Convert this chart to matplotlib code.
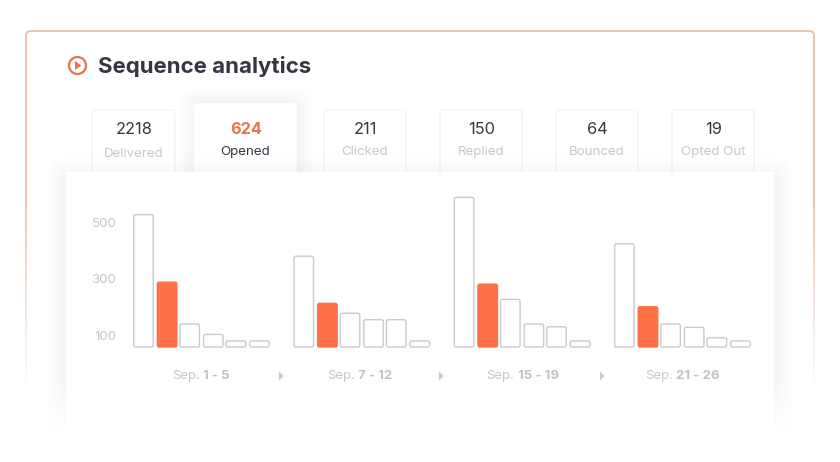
#!/usr/bin/env python3

import numpy as np
import matplotlib
matplotlib.use("Agg")
import matplotlib.pyplot as plt
from matplotlib.patches import FancyBboxPatch, Circle, Polygon, Rectangle

W, H = 840, 462

# data
tab_values = ["2218", "624", "211", "150", "64", "19"]
tab_labels = ["Delivered", "Opened", "Clicked", "Replied", "Bounced", "Opted Out"]
week_prefix = ["Sep. ", "Sep. ", "Sep. ", "Sep. "]
week_days = ["1 - 5", "7 - 12", "15 - 19", "21 - 26"]
y_ticks = [100, 300, 500]
week_1 = [528, 289, 141, 104, 81, 81]
week_2 = [381, 214, 179, 156, 156, 81]
week_3 = [589, 282, 228, 141, 131, 81]
week_4 = [425, 202, 141, 129, 92, 81]
weeks = [week_1, week_2, week_3, week_4]

ORANGE = "#fd7145"
TITLE_ORANGE = "#e9744a"
DARK = "#333742"
GREY = "#c6c8cc"
EDGE = "#c9cbd0"

plt.rcParams["font.family"] = ["Inter", "DejaVu Sans"]

fig = plt.figure(figsize=(W / 100, H / 100), dpi=100)
bg = fig.add_axes([0, 0, 1, 1])
bg.axis("off")


def soft_box(x, y, w, h, spread=18, strength=0.003, r=6, z=1):
    # stack of faint boxes, looks like a css box-shadow
    for s in np.linspace(spread, 1, 10):
        bg.add_patch(FancyBboxPatch((x - s, y - s), w + 2 * s, h + 2 * s,
                                    boxstyle=f"round,pad=0,rounding_size={r + s}",
                                    fc="#40404a", ec="none", alpha=strength, zorder=z))


def white_fade(x0, x1, y0, y1, z):
    # white overlay, clear at y0 and solid at y1
    img = np.ones((200, 1, 4))
    img[:, 0, 3] = np.linspace(0, 1, 200)
    bg.imshow(img, extent=(x0, x1, y1, y0), aspect="auto", zorder=z)


# outer frame, fades out towards the bottom
bg.add_patch(FancyBboxPatch((26, 31), 788, 500, boxstyle="round,pad=0,rounding_size=5",
                            fc="white", ec="#e8bfa9", lw=1.3, zorder=0))
white_fade(15, 825, 190, 392, 0.5)
bg.add_patch(Rectangle((15, 392), 810, 70, fc="white", ec="none", zorder=0.6))

# header
bg.add_patch(Circle((77.5, 65.5), 8.5, fc="none", ec=TITLE_ORANGE, lw=1.6, zorder=3))
bg.add_patch(Polygon([(75, 61), (75, 70), (81.5, 65.5)], closed=True,
                     fc=TITLE_ORANGE, ec="none", zorder=3))
bg.text(98, 66.5, "Sequence analytics", fontsize=16, fontweight="bold",
        color=DARK, va="center", ha="left", zorder=3)

# tabs
tab_left = [92, 194, 324, 440, 556, 672]
tab_right = [175, 297, 406, 522, 638, 754]
tab_top = [110, 103, 110, 110, 110, 110]
label_y = [154, 152, 152, 152, 152, 152]
for i in range(len(tab_values)):
    active = i == 1
    x0, x1, y0 = tab_left[i], tab_right[i], tab_top[i]
    if active:
        soft_box(x0, y0, x1 - x0, 180 - y0, spread=16, strength=0.0028, r=4, z=1)
    # the other tabs only have a very pale outline
    bg.add_patch(FancyBboxPatch((x0, y0), x1 - x0, 180 - y0,
                                boxstyle="round,pad=0,rounding_size=4",
                                fc="white", ec="none" if active else "#f5f5f6",
                                lw=1.2, zorder=2))
    cx = (x0 + x1) / 2
    bg.text(cx + 0.5, 130, tab_values[i], fontsize=11.8, ha="center", va="center",
            color=TITLE_ORANGE if active else DARK,
            fontweight="bold" if active else "normal", zorder=3)
    bg.text(cx, label_y[i], tab_labels[i], fontsize=9.6, ha="center", va="center",
            color=DARK if active else GREY, zorder=3)

# chart panel
soft_box(66, 176, 708, 300, spread=20, strength=0.003, r=2, z=2.2)
bg.add_patch(Rectangle((66, 172), 708, 290, fc="white", ec="none", zorder=2.5))
white_fade(30, 810, 385, 435, 2.6)
bg.add_patch(Rectangle((30, 435), 780, 27, fc="white", ec="none", zorder=2.7))

bg.set_xlim(0, W)
bg.set_ylim(H, 0)

# bars, x axis is in pixels so the group layout stays simple
PX_PER_UNIT = 0.2825
ax = fig.add_axes([132 / W, 1 - 347 / H, 640 / W, 160 / H], zorder=5)
ax.patch.set_alpha(0)
bar_step = 23.1
group_step = 160.3
bar_w = 19.5
n_bars = len(week_1)
base = 59.5
ax.set_xlim(0, 640)
ax.set_ylim(base, base + 160 / PX_PER_UNIT)
for g, values in enumerate(weeks):
    for b, v in enumerate(values):
        x = 11.5 + g * group_step + b * bar_step + (0.5 if b % 2 else 0)
        c = ORANGE if b == 1 else "white"
        e = ORANGE if b == 1 else EDGE
        ax.add_patch(FancyBboxPatch((x - bar_w / 2, base), bar_w, v - base,
                                    boxstyle="round,pad=0,rounding_size=1.8",
                                    mutation_aspect=1 / PX_PER_UNIT,
                                    fc=c, ec=e, lw=1.0, clip_on=False))
ax.axis("off")

for t in y_ticks:
    y_px = 347 - (t - base) * PX_PER_UNIT
    bg.text(116.5, y_px + 1.2, str(t), fontsize=9.6, color=GREY, ha="right", va="center", zorder=6)

# week labels, regular prefix followed by bold days
label_x = [201, 360, 522.5, 682.5]
arrow_x = [281, 441, 602]
renderer = fig.canvas.get_renderer()
for i in range(len(week_days)):
    t1 = bg.text(0, 376, week_prefix[i].strip(), fontsize=9.5, color=GREY, ha="left", va="center", zorder=6)
    t2 = bg.text(0, 376, week_days[i], fontsize=9.5, color="#c0c2c6", fontweight="bold",
                 ha="left", va="center", zorder=6)
    w1 = t1.get_window_extent(renderer).width
    w2 = t2.get_window_extent(renderer).width
    gap = 3.5
    start = label_x[i] - (w1 + gap + w2) / 2
    t1.set_x(start)
    t2.set_x(start + w1 + gap)
for a_x in arrow_x:
    bg.add_patch(Polygon([(a_x - 2, 371.5), (a_x - 2, 380.5), (a_x + 2.5, 376)], closed=True,
                         fc="#c9cbcf", ec="none", zorder=6))

fig.savefig("out.png", dpi=100)
